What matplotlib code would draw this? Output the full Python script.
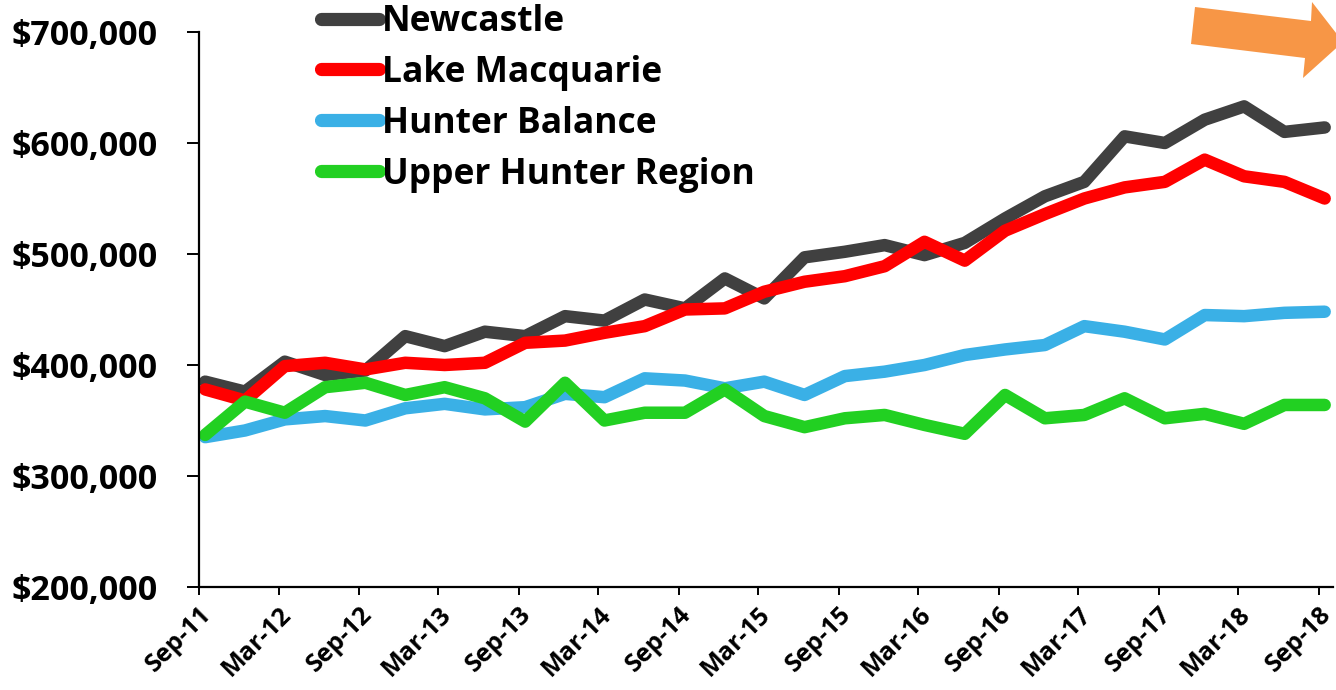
import pandas as pd
import matplotlib.pyplot as plt
import matplotlib.dates as mdates
from matplotlib.patches import Polygon

# quarterly median prices, Sep-11 .. Sep-18
newcastle = [385000, 376000, 403000, 391000, 395000, 426000, 417000, 430000,
             426000, 444000, 440000, 459000, 451000, 478000, 460000, 497000,
             502000, 508000, 499000, 510000, 532000, 552000, 565000, 606000,
             600000, 621000, 633000, 610000, 614000]
lake_macquarie = [378000, 368000, 399000, 402000, 396000, 402000, 400000, 402000,
                  420000, 422000, 429000, 435000, 450000, 451000, 466000, 475000,
                  480000, 489000, 511000, 494000, 521000, 536000, 550000, 560000,
                  565000, 585000, 570000, 565000, 550000]
hunter_balance = [335000, 341000, 351000, 354000, 350000, 361000, 365000, 360000,
                  362000, 374000, 371000, 388000, 386000, 379000, 385000, 373000,
                  390000, 394000, 400000, 409000, 414000, 418000, 435000, 430000,
                  423000, 445000, 444000, 447000, 448000]
upper_hunter = [337000, 367000, 357000, 380000, 384000, 373000, 380000, 370000,
                349000, 384000, 350000, 357000, 357000, 378000, 354000, 344000,
                352000, 355000, 346000, 338000, 373000, 352000, 355000, 370000,
                352000, 356000, 347000, 364000, 364000]

series = [("Newcastle", newcastle, "#404040"),
          ("Lake Macquarie", lake_macquarie, "#FF0000"),
          ("Hunter Balance", hunter_balance, "#3AB0E6"),
          ("Upper Hunter Region", upper_hunter, "#22D022")]

dates = pd.date_range("2011-09-01", periods=len(newcastle), freq="3MS") + pd.Timedelta(days=14)
tick_dates = pd.date_range("2011-09-01", "2018-09-01", freq="6MS")

plt.rcParams['font.family'] = ['Open Sans', 'DejaVu Sans']

W, H = 1336, 690
fig = plt.figure(figsize=(W / 100, H / 100), dpi=100)
ax = fig.add_axes([199 / W, 1 - 587 / H, (1333 - 199) / W, (587 - 32) / H])

for name, vals, col in series:
    ax.plot(dates, vals, color=col, lw=9, label=name,
            solid_joinstyle='round', solid_capstyle='round', clip_on=False)

ax.set_ylim(200000, 700000)
ax.set_xlim(pd.Timestamp("2011-09-01"), pd.Timestamp("2018-10-04"))
ax.set_yticks(range(200000, 700001, 100000))
ax.yaxis.set_major_formatter(plt.FuncFormatter(lambda v, _: f"${v:,.0f}"))
ax.set_xticks(tick_dates)
ax.xaxis.set_major_formatter(mdates.DateFormatter("%b-%y"))

for s in ['top', 'right']:
    ax.spines[s].set_visible(False)
for s in ['left', 'bottom']:
    ax.spines[s].set_linewidth(1.6)
    ax.spines[s].set_color('black')

ax.tick_params(axis='y', direction='out', length=9, width=1.4, pad=21,
               labelsize=24.5)
ax.tick_params(axis='x', direction='out', length=6, width=1.4, pad=5,
               labelsize=18)
for lab in ax.get_yticklabels():
    lab.set_fontweight('bold')
for lab in ax.get_xticklabels():
    lab.set_fontweight('bold')
    lab.set_rotation(45)
    lab.set_ha('right')
    lab.set_rotation_mode('anchor')

leg = ax.legend(loc='upper left', bbox_to_anchor=(321 / W, 1.0 - 4 / H),
                bbox_transform=fig.transFigure, frameon=False,
                prop={'weight': 'bold', 'size': 25.5}, handlelength=1.65,
                handletextpad=0.08, labelspacing=0.42, borderaxespad=0,
                borderpad=0)
for h in leg.get_lines():
    h.set_linewidth(9.5)

# orange arrow in the top-right corner
arrow_px = [(1195, 7), (1311, 21), (1312, 2), (1343, 42),
            (1303, 78), (1305, 58), (1191, 44)]
arrow = Polygon([(x / W, 1 - y / H) for x, y in arrow_px], closed=True,
                transform=fig.transFigure, facecolor='#F79646',
                edgecolor='none', clip_on=False)
fig.patches.append(arrow)

fig.savefig("out.png", dpi=100, facecolor='white')
